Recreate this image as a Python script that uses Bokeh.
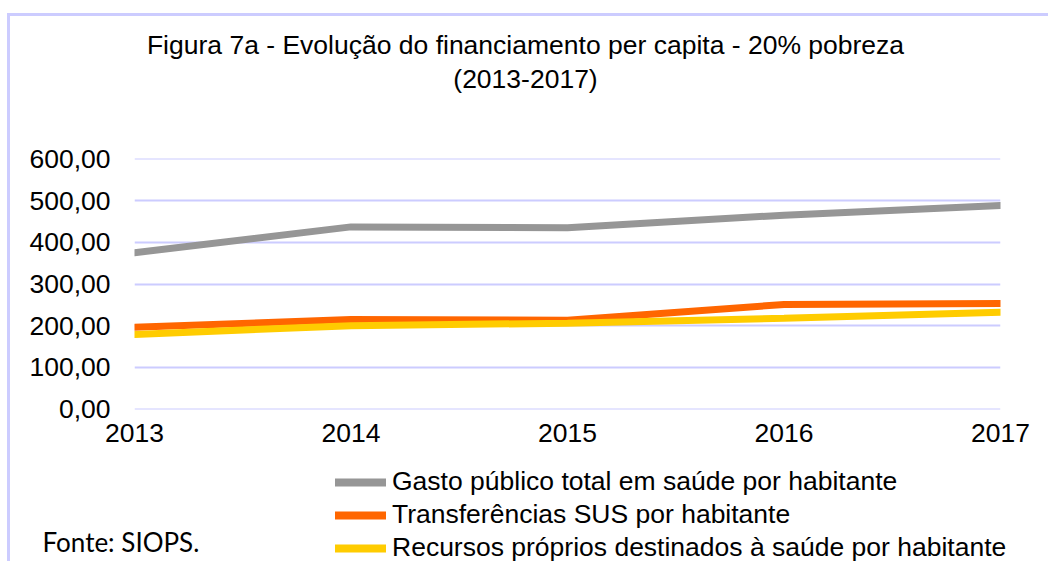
from bokeh.plotting import figure
from bokeh.layouts import column, row
from bokeh.models import Legend, LegendItem, Label, FixedTicker
from bokeh.embed import file_html
from bokeh.resources import INLINE

# ---- data ----
years = [2013, 2014, 2015, 2016, 2017]
gasto_total = [375, 437, 435, 465, 488]
transf_sus = [196, 215, 213, 251, 253]
recursos_proprios = [179, 200, 206, 218, 232]

y_ticks = [0, 100, 200, 300, 400, 500, 600]
y_labels = ["0,00", "100,00", "200,00", "300,00", "400,00", "500,00", "600,00"]
x_labels = ["2013", "2014", "2015", "2016", "2017"]

series_names = [
    "Gasto público total em saúde por habitante",
    "Transferências SUS por habitante",
    "Recursos próprios destinados à saúde por habitante",
]
series_values = [gasto_total, transf_sus, recursos_proprios]
series_colors = ["#969696", "#FF6600", "#FFCC00"]

title_line1 = "Figura 7a - Evolução do financiamento per capita - 20% pobreza"
title_line2 = "(2013-2017)"
source_text = "Fonte: SIOPS."

FONT = "Liberation Sans"
FS = "26.5px"
W = 1038

# ---- title strip ----
head = figure(width=W, height=100, x_range=(0, 1), y_range=(0, 1),
              x_axis_type=None, y_axis_type=None, output_backend="svg",
              toolbar_location=None, min_border=0)
head.outline_line_color = None
head.border_fill_color = "white"
for txt, yy in ((title_line1, 72), (title_line2, 38)):
    head.add_layout(Label(x=515, y=yy, x_units="screen", y_units="screen", text=txt,
                          text_align="center", text_baseline="alphabetic",
                          text_font=FONT, text_font_size=FS, text_color="#000000"))

# ---- main chart ----
p = figure(width=W, height=338, x_range=(2013, 2017), y_range=(-1, 601),
           output_backend="svg", toolbar_location=None,
           min_border_left=124, min_border_right=48,
           min_border_top=42, min_border_bottom=45)
p.outline_line_color = None
p.background_fill_color = "white"
p.border_fill_color = "white"
p.xgrid.visible = False
p.ygrid.grid_line_color = "#CCCCFF"
p.ygrid.grid_line_width = 2
p.yaxis.ticker = FixedTicker(ticks=y_ticks)
p.xaxis.ticker = FixedTicker(ticks=years)
p.yaxis.major_label_overrides = {t: l for t, l in zip(y_ticks, y_labels)}
p.xaxis.major_label_overrides = {t: l for t, l in zip(years, x_labels)}
for ax in (p.xaxis, p.yaxis):
    ax.axis_line_color = None
    ax.major_tick_line_color = None
    ax.minor_tick_line_color = None
    ax.major_tick_out = 0
    ax.major_tick_in = 0
    ax.major_label_text_font = FONT
    ax.major_label_text_font_size = FS
    ax.major_label_text_color = "#000000"
p.yaxis.major_label_standoff = 24
p.xaxis.major_label_standoff = 14

for vals, col in zip(series_values, series_colors):
    p.line(years, vals, line_color=col, line_width=7, line_cap="round")

# ---- legend / source strip ----
foot = figure(width=W, height=107, x_range=(0, 1), y_range=(0, 1),
              x_axis_type=None, y_axis_type=None, output_backend="svg",
              toolbar_location=None, min_border=0)
foot.outline_line_color = None
foot.border_fill_color = "white"
leg_renderers = [foot.line(years, vals, line_color=col, line_width=8, line_cap="round")
                 for vals, col in zip(series_values, series_colors)]
legend = Legend(items=[LegendItem(label=n, renderers=[r]) for n, r in zip(series_names, leg_renderers)],
                location=(325, -2), orientation="vertical",
                label_text_font=FONT, label_text_font_size=FS,
                label_text_color="#000000",
                glyph_width=51, glyph_height=30, label_height=30, label_standoff=6,
                spacing=2, padding=0, margin=0,
                border_line_color=None, background_fill_alpha=0)
foot.add_layout(legend, "center")
foot.add_layout(Label(x=32, y=20, x_units="screen", y_units="screen", text=source_text,
                      text_align="left", text_baseline="alphabetic",
                      text_font="Lato", text_font_size="26px", text_color="#000000"))

layout = column(row(head), p, row(foot), spacing=0)
layout.styles = {"border-top": "3px solid #CCCCFF", "border-left": "3px solid #CCCCFF",
                 "margin-top": "13px", "margin-left": "7px"}

open("out.html", "w").write(file_html(layout, INLINE))
